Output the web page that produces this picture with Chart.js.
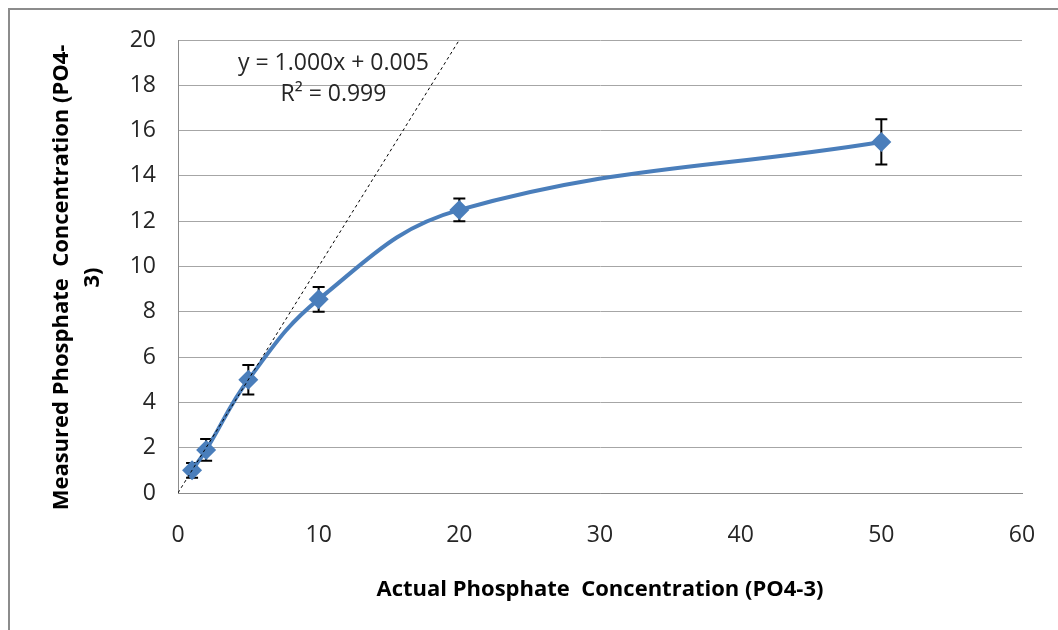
<!DOCTYPE html>
<html>
<head>
<meta charset="utf-8">
<script src="https://cdn.jsdelivr.net/npm/chart.js@4.4.1/dist/chart.umd.min.js"></script>
<style>
  html, body { margin: 0; padding: 0; background: #fff; overflow: hidden; }
  canvas { display: block; }
</style>
</head>
<body>
<canvas id="chart" width="1058" height="630"></canvas>
<script>
// Data
const actualConc = [1, 2, 5, 10, 20, 50];
const measuredConc = [1.0, 1.9, 5.0, 8.55, 12.5, 15.5];
const errorSize = [0.33, 0.48, 0.65, 0.55, 0.5, 1.0];

// Linear trendline end points (y = 1.000x + 0.005)
const trendX = [0, 20];
const trendY = [0.005, 20.005];
const trendLabel = ['y = 1.000x + 0.005', 'R\u00B2 = 0.999'];

const xTitle = 'Actual Phosphate  Concentration (PO4-3)';
const yTitle = ['Measured Phosphate  Concentration (PO4-', '3)'];

const fontFamily = "'Open Sans', 'Liberation Sans', sans-serif";

// White background with the gray frame of the chart area
const framePlugin = {
    id: 'frame',
    beforeDraw(chart) {
        const ctx = chart.ctx;
        ctx.save();
        ctx.fillStyle = '#fff';
        ctx.fillRect(0, 0, chart.width, chart.height);
        ctx.strokeStyle = '#8c8c8c';
        ctx.lineWidth = 2;
        ctx.strokeRect(9, 9, chart.width + 10, chart.height + 10);
        ctx.restore();
    }
};

// Vertical error bars with caps, drawn under the line and markers
const errorBarPlugin = {
    id: 'errorBars',
    beforeDatasetsDraw(chart) {
        const ctx = chart.ctx;
        const xs = chart.scales.x;
        const ys = chart.scales.y;
        ctx.save();
        ctx.strokeStyle = '#000';
        ctx.lineWidth = 2;
        actualConc.forEach((xv, i) => {
            const px = xs.getPixelForValue(xv);
            const top = ys.getPixelForValue(measuredConc[i] + errorSize[i]);
            const bot = ys.getPixelForValue(measuredConc[i] - errorSize[i]);
            ctx.beginPath();
            ctx.moveTo(px, top);
            ctx.lineTo(px, bot);
            ctx.moveTo(px - 6, top);
            ctx.lineTo(px + 6, top);
            ctx.moveTo(px - 6, bot);
            ctx.lineTo(px + 6, bot);
            ctx.stroke();
        });
        ctx.restore();
    }
};

// Trendline equation label and the two-line y axis title
const labelPlugin = {
    id: 'labels',
    afterDraw(chart) {
        const ctx = chart.ctx;
        const xs = chart.scales.x;
        const ys = chart.scales.y;
        const cx = xs.getPixelForValue(11.05);
        ctx.save();
        ctx.fillStyle = '#262626';
        ctx.font = '23px ' + fontFamily;
        ctx.textAlign = 'center';
        ctx.textBaseline = 'middle';
        ctx.fillText(trendLabel[0], cx, ys.getPixelForValue(18.98));
        ctx.fillText(trendLabel[1], cx, ys.getPixelForValue(17.58));

        // y title, rotated
        ctx.translate(62, (ys.top + ys.bottom) / 2 + 11);
        ctx.rotate(-Math.PI / 2);
        ctx.fillStyle = '#000';
        ctx.font = 'bold 22px ' + fontFamily;
        ctx.fillText(yTitle[0], 0, 0);
        ctx.fillText(yTitle[1], 0, 31);
        ctx.restore();
    }
};

const ctx = document.getElementById('chart').getContext('2d');
new Chart(ctx, {
    type: 'scatter',
    data: {
        datasets: [{
            label: 'Trendline',
            data: trendX.map((x, i) => ({ x: x, y: trendY[i] })),
            showLine: true,
            borderColor: '#000',
            borderWidth: 1,
            borderDash: [3, 3],
            pointRadius: 0,
            order: 0
        }, {
            label: 'Measured',
            data: actualConc.map((x, i) => ({ x: x, y: measuredConc[i] })),
            showLine: true,
            tension: 0.4,
            borderColor: '#4a7ebb',
            borderWidth: 4,
            backgroundColor: '#4a7ebb',
            pointStyle: 'rectRot',
            pointRadius: 10,
            pointBorderWidth: 0,
            order: 1
        }]
    },
    options: {
        responsive: false,
        animation: false,
        events: [],
        devicePixelRatio: 1,
        layout: {
            padding: { left: 10, right: 36, top: 40, bottom: 0 }
        },
        plugins: {
            legend: { display: false },
            tooltip: { enabled: false }
        },
        scales: {
            x: {
                type: 'linear',
                min: 0,
                max: 60,
                border: { display: true, color: '#8c8c8c', width: 1 },
                grid: { display: false, drawTicks: false },
                ticks: {
                    stepSize: 10,
                    padding: 29,
                    color: '#262626',
                    font: { family: fontFamily, size: 23 }
                },
                title: {
                    display: true,
                    text: xTitle,
                    color: '#000',
                    font: { family: fontFamily, size: 22, weight: 'bold', lineHeight: '22px' },
                    padding: { top: 0, bottom: 29 }
                },
                afterFit(scale) {
                    scale.height = 137;
                    scale.paddingLeft = 0;
                    scale.paddingRight = 0;
                }
            },
            y: {
                type: 'linear',
                min: 0,
                max: 20,
                border: { display: true, color: '#8c8c8c', width: 1 },
                grid: { color: '#a6a6a6', lineWidth: 1, drawTicks: false },
                ticks: {
                    stepSize: 2,
                    padding: 22,
                    color: '#262626',
                    font: { family: fontFamily, size: 23 }
                },
                afterFit(scale) { scale.width = 168; }
            }
        }
    },
    plugins: [framePlugin, errorBarPlugin, labelPlugin]
});
</script>
</body>
</html>
